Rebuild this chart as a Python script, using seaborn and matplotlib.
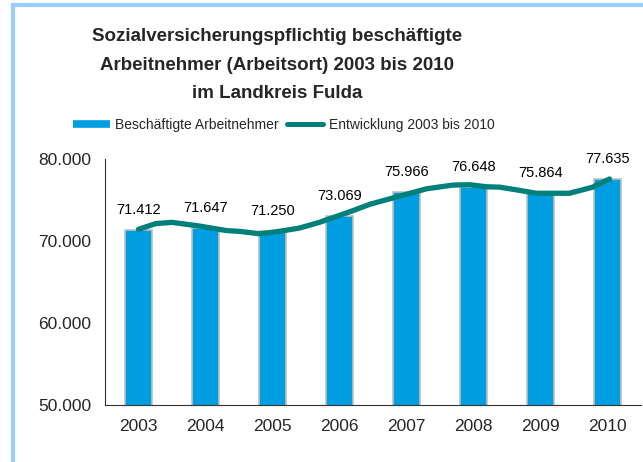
import numpy as np
import pandas as pd
import matplotlib
matplotlib.use('Agg')
import matplotlib.pyplot as plt
from matplotlib.lines import Line2D
from matplotlib.patches import Rectangle
from matplotlib.ticker import FuncFormatter, FixedLocator
import seaborn as sns

years = ['2003', '2004', '2005', '2006', '2007', '2008', '2009', '2010']
employees = [71412, 71647, 71250, 73069, 75966, 76648, 75864, 77635]

# hand drawn trend line (category units / persons)
trend_x = [0.0, 0.26, 0.5, 0.91, 1.31, 1.51, 1.81, 2.1, 2.4, 2.7, 3.19, 3.45,
           3.94, 4.3, 4.69, 4.94, 5.19, 5.39, 5.69, 5.94, 6.43, 6.78, 7.03]
trend_y = [71450, 72150, 72300, 71850, 71300, 71200, 70900, 71200, 71600, 72300,
           73700, 74500, 75600, 76400, 76850, 76900, 76650, 76600, 76200, 75850,
           75850, 76600, 77600]

bar_label = 'Beschäftigte Arbeitnehmer'
line_label = 'Entwicklung 2003 bis 2010'
title = 'Sozialversicherungspflichtig beschäftigte\nArbeitnehmer (Arbeitsort) 2003 bis 2010\nim Landkreis Fulda'

BLUE = '#009EE0'
TEAL = '#00807A'

sns.set_style('white')
plt.rcParams['font.family'] = ['Liberation Sans', 'DejaVu Sans']

df = pd.DataFrame({'Jahr': years, 'Wert': employees})

fig = plt.figure(figsize=(6.43, 4.62), dpi=100)
W, H = 643, 462

# light blue frame around the chart area
fig.patches.append(Rectangle((13 / W, -0.1), 1.2, 1 - 5 / H + 0.1, transform=fig.transFigure,
                             fill=False, edgecolor='#99CCFF', linewidth=3, zorder=0))

ax = fig.add_axes([105 / W, 57 / H, 536 / W, (405 - 159.3) / H])
sns.barplot(data=df, x='Jahr', y='Wert', color=BLUE, width=0.4, saturation=1,
            edgecolor='#C0C0C0', linewidth=1.2, ax=ax, zorder=2)
ax.plot(trend_x, trend_y, color=TEAL, lw=3.8, solid_capstyle='round',
        solid_joinstyle='round', zorder=3)

for i, v in enumerate(employees):
    ax.annotate(f'{v:,}'.replace(',', '.'), (i, v), xytext=(0, 20), textcoords='offset pixels',
                ha='center', va='center', fontsize=10.5, color='black', annotation_clip=False)

ax.set_ylim(50000, 80000)
ax.set_xlim(-0.5, 7.5)
ax.set_yticks([50000, 60000, 70000, 80000])
ax.yaxis.set_major_formatter(FuncFormatter(lambda v, p: f'{int(v):,}'.replace(',', '.')))
ax.xaxis.set_minor_locator(FixedLocator(np.arange(-0.5, 8, 1)))
ax.tick_params(axis='x', which='major', length=0, pad=10, labelsize=12.5)
ax.tick_params(axis='x', which='minor', length=4, width=0.8, direction='out', color='#333333')
ax.tick_params(axis='y', length=4, width=0.8, direction='out', pad=6, labelsize=12.5, color='#333333')
ax.set_xlabel('')
ax.set_ylabel('')
for s in ['top', 'right']:
    ax.spines[s].set_visible(False)
for s in ['left', 'bottom']:
    ax.spines[s].set_color('#333333')
    ax.spines[s].set_linewidth(0.8)

fig.text(277 / W, 1 - 65 / H, title, ha='center', va='center', fontsize=13.5,
         fontweight='bold', linespacing=1.9)

handles = [Line2D([0], [0], color=BLUE, lw=5.5, solid_capstyle='butt'),
           Line2D([0], [0], color=TEAL, lw=3.6, solid_capstyle='round')]
fig.legend(handles, [bar_label, line_label], loc='center', bbox_to_anchor=(284 / W, 1 - 125 / H),
           ncol=2, frameon=False, fontsize=10, handlelength=2.6, handletextpad=0.4,
           columnspacing=0.6)

fig.savefig('out.png', dpi=100)
